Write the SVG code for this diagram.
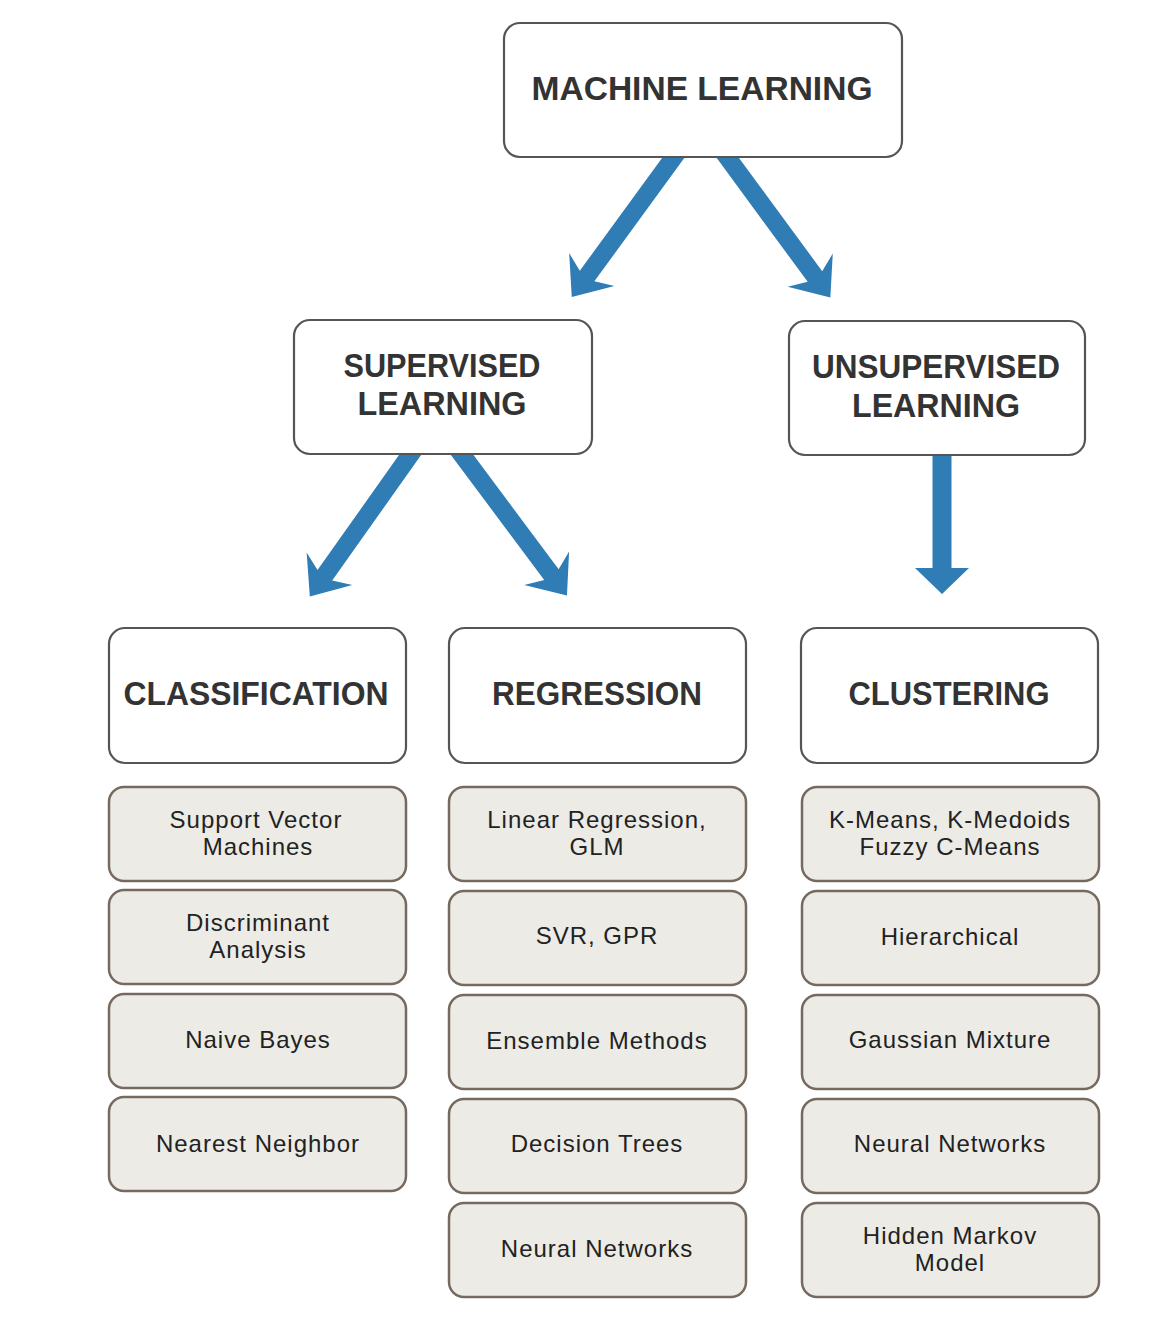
<svg xmlns="http://www.w3.org/2000/svg" width="1175" height="1335" viewBox="0 0 1175 1335">
<style>
.hbox{fill:#fff;stroke:#555;stroke-width:2.2}
.ibox{fill:#ecebe6;stroke:#76695f;stroke-width:2.5}
.h{font-family:"Liberation Sans",Arial,sans-serif;font-weight:bold;font-size:34px;fill:#333;text-anchor:middle}
.t{font-family:"Liberation Sans",Arial,sans-serif;font-size:24px;fill:#222;text-anchor:middle;letter-spacing:1px}
.arr{fill:#2f7db4}
</style>
<rect width="1175" height="1335" fill="#fff"/>
<g id="connectors">
<path class="arr" transform="translate(679,150) rotate(126.1)" d="M0,-9 H156 L148,-28 L182,0 L148,28 L156,9 H0 Z"/>
<path class="arr" transform="translate(722,150) rotate(53.7)" d="M0,-9 H157 L149,-28 L183,0 L149,28 L157,9 H0 Z"/>
<path class="arr" transform="translate(415,448) rotate(125.3)" d="M0,-9 H156 L148,-28 L182,0 L148,28 L156,9 H0 Z"/>
<path class="arr" transform="translate(457,448) rotate(53.3)" d="M0,-9 H158 L150,-28 L184,0 L150,28 L158,9 H0 Z"/>
<path class="arr" d="M932.5,448 H951.5 V568 H969 L942,594 L915,568 H932.5 Z"/>
</g>
<g id="machine-learning">
<rect class="hbox" x="504" y="23" width="398" height="134" rx="16"/>
<text class="h" x="702" y="100" textLength="341" lengthAdjust="spacingAndGlyphs">MACHINE LEARNING</text>
</g>
<g id="supervised">
<rect class="hbox" x="294" y="320" width="298" height="134" rx="16"/>
<text class="h" x="442" y="377" textLength="197" lengthAdjust="spacingAndGlyphs">SUPERVISED</text>
<text class="h" x="442" y="415" textLength="169" lengthAdjust="spacingAndGlyphs">LEARNING</text>
</g>
<g id="unsupervised">
<rect class="hbox" x="789" y="321" width="296" height="134" rx="16"/>
<text class="h" x="936" y="378" textLength="248" lengthAdjust="spacingAndGlyphs">UNSUPERVISED</text>
<text class="h" x="936" y="417" textLength="168" lengthAdjust="spacingAndGlyphs">LEARNING</text>
</g>
<g id="classification">
<rect class="hbox" x="109" y="628" width="297" height="135" rx="16"/>
<text class="h" x="256" y="705" textLength="265" lengthAdjust="spacingAndGlyphs">CLASSIFICATION</text>
</g>
<g id="regression">
<rect class="hbox" x="449" y="628" width="297" height="135" rx="16"/>
<text class="h" x="597" y="705" textLength="210" lengthAdjust="spacingAndGlyphs">REGRESSION</text>
</g>
<g id="clustering">
<rect class="hbox" x="801" y="628" width="297" height="135" rx="16"/>
<text class="h" x="949" y="705" textLength="201" lengthAdjust="spacingAndGlyphs">CLUSTERING</text>
</g>
<g id="svm">
<rect class="ibox" x="109" y="787" width="297" height="94" rx="15"/>
<text class="t" x="256" y="828">Support Vector</text>
<text class="t" x="258" y="855">Machines</text>
</g>
<g id="discriminant">
<rect class="ibox" x="109" y="890" width="297" height="94" rx="15"/>
<text class="t" x="258" y="931">Discriminant</text>
<text class="t" x="258" y="958">Analysis</text>
</g>
<g id="naive-bayes">
<rect class="ibox" x="109" y="994" width="297" height="94" rx="15"/>
<text class="t" x="258" y="1048">Naive Bayes</text>
</g>
<g id="nearest-neighbor">
<rect class="ibox" x="109" y="1097" width="297" height="94" rx="15"/>
<text class="t" x="258" y="1152">Nearest Neighbor</text>
</g>
<g id="linear-regression">
<rect class="ibox" x="449" y="787" width="297" height="94" rx="15"/>
<text class="t" x="597" y="828">Linear Regression,</text>
<text class="t" x="597" y="855">GLM</text>
</g>
<g id="svr-gpr">
<rect class="ibox" x="449" y="891" width="297" height="94" rx="15"/>
<text class="t" x="597" y="944">SVR, GPR</text>
</g>
<g id="ensemble">
<rect class="ibox" x="449" y="995" width="297" height="94" rx="15"/>
<text class="t" x="597" y="1049">Ensemble Methods</text>
</g>
<g id="decision-trees">
<rect class="ibox" x="449" y="1099" width="297" height="94" rx="15"/>
<text class="t" x="597" y="1152">Decision Trees</text>
</g>
<g id="reg-neural">
<rect class="ibox" x="449" y="1203" width="297" height="94" rx="15"/>
<text class="t" x="597" y="1257">Neural Networks</text>
</g>
<g id="kmeans">
<rect class="ibox" x="802" y="787" width="297" height="94" rx="15"/>
<text class="t" x="950" y="828">K-Means, K-Medoids</text>
<text class="t" x="950" y="855">Fuzzy C-Means</text>
</g>
<g id="hierarchical">
<rect class="ibox" x="802" y="891" width="297" height="94" rx="15"/>
<text class="t" x="950" y="945">Hierarchical</text>
</g>
<g id="gaussian">
<rect class="ibox" x="802" y="995" width="297" height="94" rx="15"/>
<text class="t" x="950" y="1048">Gaussian Mixture</text>
</g>
<g id="clu-neural">
<rect class="ibox" x="802" y="1099" width="297" height="94" rx="15"/>
<text class="t" x="950" y="1152">Neural Networks</text>
</g>
<g id="hmm">
<rect class="ibox" x="802" y="1203" width="297" height="94" rx="15"/>
<text class="t" x="950" y="1244">Hidden Markov</text>
<text class="t" x="950" y="1271">Model</text>
</g>
</svg>
